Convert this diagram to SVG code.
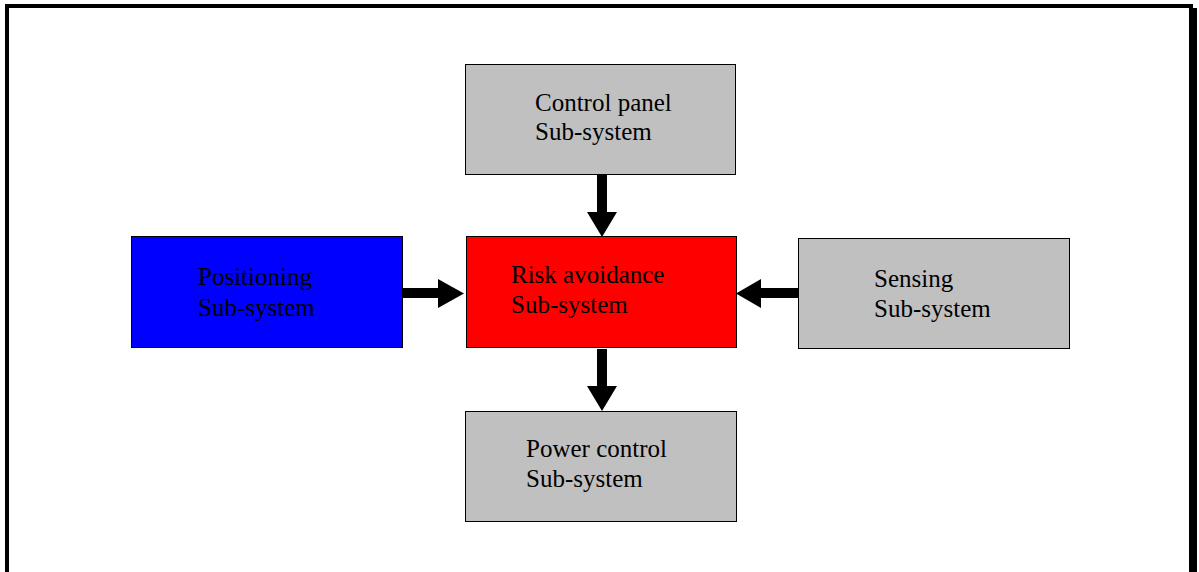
<svg xmlns="http://www.w3.org/2000/svg" width="1199" height="572" viewBox="0 0 1199 572">
<style>
.box{stroke:#000;stroke-width:1}
.gray{fill:#c0c0c0}
.lbl{font-family:"Liberation Serif","Times New Roman",serif;font-size:25px;fill:#000}
.arr{fill:#000}
</style>
<rect width="1199" height="572" fill="#fff"/>
<g id="frame">
<rect x="5" y="4" width="1188" height="4" fill="#000"/>
<rect x="5" y="4" width="4" height="568" fill="#000"/>
<rect x="1189" y="8" width="8" height="564" fill="#000"/>
</g>
<g id="control-panel">
<rect class="box gray" x="465.5" y="64.5" width="270" height="110"/>
<text class="lbl" x="535" y="111">Control panel</text>
<text class="lbl" x="535" y="140">Sub-system</text>
</g>
<g id="risk-avoidance">
<rect class="box" fill="#ff0000" x="466.5" y="236.5" width="270" height="111"/>
<text class="lbl" x="511" y="283">Risk avoidance</text>
<text class="lbl" x="511" y="313">Sub-system</text>
</g>
<g id="positioning">
<rect class="box" fill="#0000ff" x="131.5" y="236.5" width="271" height="111"/>
<text class="lbl" x="198" y="285">Positioning</text>
<text class="lbl" x="198" y="316">Sub-system</text>
</g>
<g id="sensing">
<rect class="box gray" x="798.5" y="238.5" width="271" height="110"/>
<text class="lbl" x="874" y="287">Sensing</text>
<text class="lbl" x="874" y="317">Sub-system</text>
</g>
<g id="power-control">
<rect class="box gray" x="465.5" y="411.5" width="271" height="110"/>
<text class="lbl" x="526" y="457">Power control</text>
<text class="lbl" x="526" y="487">Sub-system</text>
</g>
<g id="connectors">
<polygon class="arr" points="597,175 607,175 607,212 617,212 602,237 587,212 597,212"/>
<polygon class="arr" points="597,349 607,349 607,386 617,386 602,411 587,386 597,386"/>
<polygon class="arr" points="402,288 438,288 438,279 464,293.5 438,308 438,298 402,298"/>
<polygon class="arr" points="798,288 761,288 761,279 736,293.5 761,308 761,298 798,298"/>
</g>
</svg>
